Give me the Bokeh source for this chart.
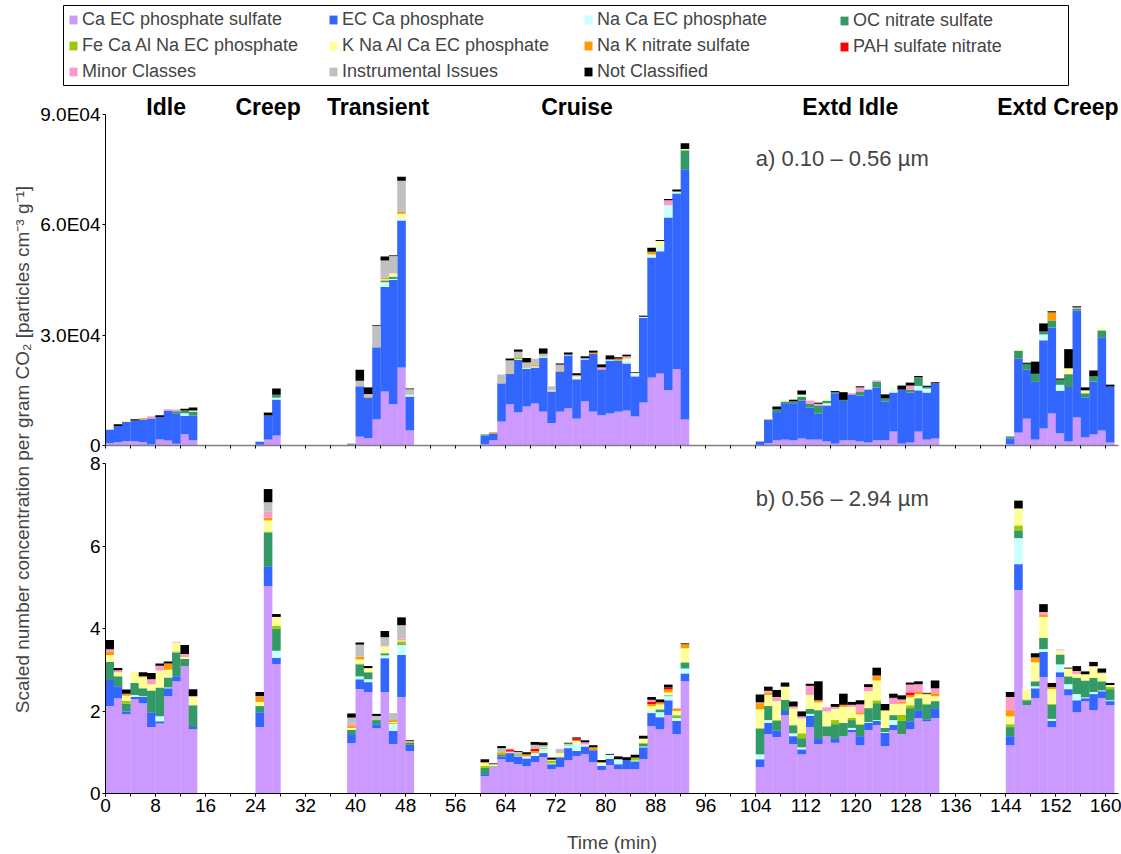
import math

from bokeh.core.properties import value
from bokeh.embed import file_html
from bokeh.models import (BoxAnnotation, ColumnDataSource, FixedTicker, Label,
                          Legend, LegendItem, LinearAxis, Range1d)
from bokeh.plotting import figure
from bokeh.resources import INLINE

FONT = "Liberation Sans"

# ---------------------------------------------------------------- data ----
# Operating modes: each is sampled in consecutive 80 s bins.
BIN_MIN = 4 / 3
MODES = ["Idle", "Creep", "Transient", "Cruise", "Extd Idle", "Extd Creep"]
MODE_START = [0, 24, 38.67, 60, 104, 144]          # min
MODE_BINS = [11, 3, 8, 25, 22, 13]
MODE_LABEL_X = [9.7, 26, 43.6, 75.4, 119.1, 152.3]  # min

CLASS_NAMES = [
    "Ca EC phosphate sulfate", "EC Ca phosphate", "Na Ca EC phosphate",
    "OC nitrate sulfate", "Fe Ca Al Na EC phosphate", "K Na Al Ca EC phosphate",
    "Na K nitrate sulfate", "PAH sulfate nitrate", "Minor Classes",
    "Instrumental Issues", "Not Classified",
]
CLASS_COLORS = [
    "#CC99FF", "#3366FF", "#CCFFFF", "#339966", "#99CC00", "#FFFF99",
    "#FF9900", "#FF0000", "#FF99CC", "#C0C0C0", "#000000",
]

# a) 0.10 - 0.56 um, particles cm-3 g-1 in thousands
#    rows: Idle | Creep | Transient | Cruise | Extd Idle | Extd Creep
A_CA_EC = [
    0.63, 0.91, 1.18, 1.18, 0.91, 0.27, 1.63, 1.36, 0.45, 3.08, 1.45,
    0.2, 1.6, 2.7,
    0.1, 2.4, 2.0, 7.1, 14.7, 11.2, 21.2, 4.1,
    0.3, 1.4, 6.5, 11.2, 9.0, 10.6, 11.4, 9.2, 6.1, 9.2, 10.1, 7.3, 12.0, 9.2, 8.2, 8.7, 9.2, 9.5, 7.9, 11.7, 18.5, 19.6, 15.0, 20.7, 7.1,
    0.1, 0.6, 1.4, 1.6, 1.4, 1.9, 1.6, 1.6, 1.1, 0.5, 1.4, 1.4, 1.1, 0.8, 1.4, 1.4, 3.8, 0.5, 0.8, 3.8, 1.6, 1.9,
    0.3, 3.5, 7.3, 1.6, 4.6, 8.7, 3.3, 1.1, 7.6, 2.2, 3.0, 4.1, 0.8,
]
A_EC_CA = [
    3.63, 4.35, 5.26, 5.62, 6.16, 6.98, 6.08, 8.16, 8.16, 4.99, 6.71,
    0.9, 6.56, 9.8,
    0.2, 13.7, 11.0, 19.6, 28.4, 33.9, 40.0, 9.2,
    2.4, 1.9, 10.4, 8.4, 14.3, 10.2, 9.8, 14.7, 8.6, 10.9, 14.4, 10.7, 11.4, 15.7, 12.5, 14.4, 13.9, 12.8, 10.9, 23.0, 32.6, 33.2, 47.0, 47.8, 68.0,
    1.0, 6.5, 7.7, 9.9, 10.1, 10.3, 8.7, 7.1, 9.8, 13.7, 10.7, 12.5, 12.5, 14.4, 14.4, 10.6, 10.6, 14.7, 13.6, 11.2, 12.8, 15.0,
    1.6, 20.1, 13.3, 15.7, 24.0, 23.4, 11.6, 14.8, 29.1, 10.9, 14.4, 25.3, 15.2,
]
A_NA_CA = [
    0, 0, 0, 0, 0, 0, 0, 0, 0, 0.73, 0,
    0, 0, 0.5,
    0, 0, 0, 0, 1.3, 0.2, 0.5, 0.5,
    0, 0, 0, 0.2, 0.2, 0.3, 0.35, 0.3, 0.3, 0, 0.2, 0.45, 0.3, 0, 0, 0.3, 0, 0.8, 0.6, 0.3, 0.8, 1.4, 3.3, 0.55, 0,
    0, 0, 0, 0, 0, 0, 0, 0, 0.6, 0, 0, 0, 0, 0, 0, 0, 0.8, 0, 0, 1.2, 1.1, 0,
    0, 0, 0, 0, 1.6, 0, 1.6, 0, 0, 0, 0, 0, 0,
]
A_OC = [
    0, 0, 0, 0, 0, 0.18, 0, 0, 0.73, 0.73, 1.09,
    0, 0, 0.8,
    0.2, 0, 0, 0, 0.5, 0.6, 0, 0,
    0.3, 0, 0, 0, 0, 0, 0, 0, 0, 0, 0, 0, 0, 0, 0, 0, 0, 0, 0, 0, 0, 0, 0, 0, 5.2,
    0, 0, 0.7, 0.45, 0.5, 1.1, 1.0, 2.2, 0.7, 0.3, 0.3, 0, 1.1, 0, 1.6, 0.8, 0, 0, 0.8, 2.4, 0.45, 0,
    0.55, 2.2, 1.6, 2.2, 0.8, 1.9, 1.4, 3.5, 0.55, 1.1, 1.4, 1.9, 0,
]
A_FE = [
    0, 0, 0, 0, 0, 0, 0, 0, 0, 0, 0,
    0, 0, 0,
    0, 0, 0, 0, 0, 0, 0, 0,
    0, 0, 0, 0, 0.5, 0, 0, 0.3, 0, 0, 0, 0, 0, 0, 0, 0, 0.3, 0, 0, 0, 0, 0, 0, 0, 0,
    0, 0, 0, 0, 0, 0, 0, 0, 0, 0, 0, 0, 0, 0, 0, 0, 0, 0, 0, 0, 0, 0,
    0, 0, 0, 0, 0, 0, 0, 0, 0, 0, 0, 0, 0,
]
A_K = [
    0, 0, 0.27, 0, 0, 0, 0, 0, 0, 0, 0.27,
    0.15, 0, 0,
    0, 0, 0, 0, 0.3, 0.9, 1.3, 0,
    0, 0, 0, 0, 0, 0, 0, 0, 0, 0, 0, 0.35, 0, 0, 0, 0, 0, 0.55, 0.3, 0, 0, 1.4, 0, 0, 0.3,
    0, 0.35, 0, 0.35, 0, 0.55, 0, 0, 0.45, 0, 0, 0, 0, 0, 0, 0, 0.3, 0, 0, 0, 0, 0,
    0, 0.3, 0, 0, 0, 0, 0, 1.6, 0, 0.8, 0, 0.55, 0,
]
A_NAK = [
    0, 0, 0, 0, 0.36, 0, 0, 0, 0, 0, 0,
    0, 0, 0,
    0, 0, 0.2, 0, 0.4, 0, 0.5, 0,
    0, 0.3, 0, 0.35, 0, 0, 0.45, 0, 0, 0.3, 0, 0, 0, 0.35, 0, 0, 0, 0, 0, 0, 0.8, 0, 0, 0, 0,
    0, 0, 0, 0, 0, 0, 0, 0, 0, 0, 0, 0, 0, 0, 0, 0, 0, 0, 0, 0, 0, 0,
    0, 0, 0, 0, 0, 2.2, 0, 0, 0, 0, 0, 0, 0,
]
A_PAH = [
    0, 0, 0, 0, 0, 0, 0, 0, 0, 0, 0,
    0, 0, 0,
    0, 0, 0, 0, 0, 0, 0, 0,
    0, 0, 0, 0, 0, 0, 0, 0, 0, 0, 0, 0, 0, 0, 0, 0, 0.3, 0, 0, 0, 0, 0, 0, 0, 0,
    0, 0, 0, 0, 0, 0, 0, 0, 0, 0, 0, 0, 0, 0, 0, 0, 0, 0, 0, 0, 0, 0,
    0, 0, 0, 0, 0, 0, 0, 0, 0, 0, 0, 0, 0,
]
A_MINOR = [
    0, 0, 0, 0, 0, 0.54, 0, 0.36, 0.45, 0, 0,
    0, 0, 0,
    0, 0, 0, 0, 0, 0, 0, 0,
    0, 0, 0, 0, 0, 0, 0, 0, 0, 0, 0, 0.3, 0, 0, 0.55, 0, 0, 0.6, 0, 0, 0, 0, 1.4, 0, 0,
    0, 0, 0, 0, 0, 0, 0.9, 0.45, 0, 0, 0, 0.3, 1.1, 0, 0.3, 0, 0, 0, 1.1, 0, 0, 0,
    0, 0, 0, 0, 0, 0, 0, 0, 0.3, 0, 0, 0, 0,
]
A_INSTR = [
    0, 0, 0, 0, 0, 0, 0, 0, 0, 0, 0,
    0, 0, 0,
    0, 1.5, 0.8, 5.8, 4.7, 4.7, 8.5, 1.5,
    0, 0, 2.4, 3.0, 1.5, 1.5, 1.6, 0.45, 1.1, 1.6, 0, 0, 0, 0, 0, 0, 0, 0, 0, 0, 0, 0, 0, 0, 0,
    0, 0, 0, 0, 0, 0, 0, 0, 0, 0, 0, 0, 0, 0, 0, 0, 0, 0, 0, 0, 0, 0,
    0, 0, 0, 0, 0, 0, 0, 0, 0, 0, 0, 0, 0,
]
A_UNCL = [
    0, 0.54, 0, 0.36, 0, 0, 0.54, 0, 0, 0.45, 0.82,
    0, 0.8, 1.7,
    0, 3.0, 1.8, 0.2, 1.1, 0.2, 1.1, 0.2,
    0, 0, 0, 0.5, 0.6, 1.2, 0, 1.45, 0, 0.3, 0.6, 0.55, 0.55, 0.55, 0.8, 1.1, 0.3, 0.45, 0.2, 0.3, 1.1, 0.3, 0.3, 0.55, 1.6,
    0, 0, 0.8, 0, 0.45, 1.1, 0, 0.3, 0, 0.3, 2.1, 0, 0.3, 0, 0, 1.1, 0, 1.1, 0.8, 0.3, 0.3, 0.3,
    0, 0, 0.3, 3.3, 2.2, 0.3, 0.3, 5.2, 0.3, 0.8, 1.6, 0, 0.55,
]
A_UNIT = 1e3

# b) 0.56 - 2.94 um, particles cm-3 g-1
B_CA_EC = [
    2.12, 2.31, 1.92, 2.29, 2.19, 1.61, 1.70, 2.36, 2.72, 3.09, 1.56,
    1.61, 5.03, 3.14,
    1.22, 2.53, 2.46, 1.58, 2.46, 1.20, 2.34, 1.03,
    .42, .64, .83, .76, .71, .66, .76, .88, .59, .64, .81, .91, .95, .76, .57, .69, .59, .59, .59, .83, 1.63, 1.56, 1.90, 1.44, 2.72,
    .64, 1.44, 1.37, 1.90, 1.20, .95, 1.61, 1.20, 1.39, 1.23, 1.39, 1.49, 1.17, 1.54, 1.66, 1.15, 1.54, 1.44, 1.56, 1.83, 1.75, 1.83,
    1.17, 4.93, 2.14, 2.31, 2.82, 1.61, 2.82, 2.38, 1.97, 2.24, 2.02, 2.31, 2.14,
]
B_EC_CA = [
    .63, .29, .07, .05, .15, .36, .05, .19, .12, 0, .05,
    .36, .48, .15,
    .22, .24, .24, .10, .82, .32, 1.02, .15,
    .05, 0, .07, .22, .19, .19, .15, .10, .12, .24, .29, .12, .19, .29, .10, .15, .12, .22, .19, .29, .32, .29, .36, .32, .19,
    .19, .27, .15, .10, .19, .12, .27, .12, 0, .09, 0, .05, .22, .17, .10, .32, .12, 0, .19, .19, .05, .24,
    .22, .63, 0, .24, .61, .15, .12, .15, .29, .07, .39, .17, .10,
]
B_NA_CA = [
    0, 0, 0, .05, .02, 0, .12, .02, 0, 0, 0,
    0, 0, .17,
    0, .07, .07, 0, .07, .17, .24, 0,
    0, 0, 0, .02, .02, .05, .07, .10, .02, 0, .07, .19, .05, 0, .05, .10, .12, 0, .02, .02, .07, .12, .10, .07, .12,
    .12, .07, 0, 0, .07, .05, .05, 0, 0, 0, 0, .05, 0, .02, .02, .02, .12, 0, 0, 0, 0, 0,
    0, .63, 0, .05, .07, .05, .19, .12, .15, .02, .05, .02, .02,
]
B_OC = [
    .44, .24, .19, .29, .19, .53, .70, .24, .58, .17, .53,
    .15, .82, .53,
    .10, .29, .17, .10, .05, 0, .02, .05,
    .15, .02, .05, 0, .02, 0, 0, 0, 0, 0, .02, 0, 0, 0, 0, 0, 0, 0, 0, .07, 0, .07, .02, .02, .15,
    .63, .34, .24, .27, .19, .22, .12, .70, .24, .36, .32, .19, .27, .34, .41, .10, .12, .32, .32, .29, .36, .17,
    .22, .19, .12, .12, .27, .34, .24, .19, .39, .41, .34, .22, .27,
]
B_FE = [
    0, 0, .07, 0, 0, 0, 0, 0, .02, 0, 0,
    0, .02, .07,
    0, .02, 0, 0, 0, .02, .07, 0,
    .05, 0, 0, 0, 0, 0, 0, .02, .07, 0, 0, 0, 0, 0, 0, 0, 0, 0, .07, .02, 0, 0, 0, .05, 0,
    0, 0, .02, 0, .02, .12, 0, 0, 0, .10, 0, .05, .02, 0, .07, 0, 0, .15, .07, 0, .02, 0,
    .07, .12, .02, 0, 0, .02, 0, 0, 0, 0, 0, 0, .05,
]
B_K = [
    .17, .10, .12, .27, .27, .15, .41, .19, .22, .05, .22,
    .10, .27, .22,
    .05, .10, .10, 0, .17, .02, .02, 0,
    .07, .05, 0, 0, 0, 0, 0, .02, .02, .10, .02, .05, 0, 0, .02, 0, 0, 0, 0, .10, .10, .12, .07, .10, .34,
    .46, .27, .46, .32, .39, .36, .34, .19, .36, .27, .39, .27, .24, .41, .48, .41, .27, .27, .19, .10, .22, .12,
    .19, .41, .24, .46, .51, .36, .10, .19, .10, .15, .27, .19, .05,
]
B_NAK = [
    .07, 0, .05, 0, .02, 0, 0, .15, 0, 0, 0,
    .12, .07, 0,
    .05, .07, 0, 0, 0, .05, 0, .02,
    .02, 0, .05, .02, .02, .05, .05, 0, 0, 0, 0, .02, 0, .07, .02, 0, 0, 0, 0, 0, .05, .05, .07, .05, .10,
    .15, .05, 0, 0, 0, 0, 0, .05, 0, 0, .05, 0, .05, 0, .12, .02, 0, .05, .05, .05, .02, .07,
    .15, 0, 0, .12, .05, .05, 0, 0, 0, 0, 0, 0, 0,
]
B_PAH = [
    0, 0, 0, 0, 0, 0, 0, 0, 0, 0, 0,
    0, 0, 0,
    0, 0, 0, 0, 0, 0, 0, 0,
    0, 0, 0, .05, 0, 0, .05, 0, 0, 0, 0, .05, 0, 0, 0, 0, 0, 0, 0, 0, .05, 0, .05, 0, 0,
    0, 0, 0, 0, 0, 0, 0, 0, 0, 0, 0, 0, 0, 0, 0, 0, 0, 0, .07, 0, 0, 0,
    0, 0, 0, 0, 0, 0, 0, 0, 0, 0, 0, 0, 0,
]
B_MINOR = [
    .07, .05, 0, 0, 0, .12, .12, 0, .02, .07, 0,
    .02, .15, 0,
    .05, 0, 0, 0, 0, 0, .05, .02,
    0, 0, 0, .02, 0, 0, 0, 0, 0, 0, 0, 0, .05, 0, 0, 0, 0, 0, 0, 0, .05, 0, 0, .02, 0,
    .02, .05, .10, 0, .05, .05, .22, 0, .10, .05, 0, .05, .19, .10, 0, 0, .15, .05, .19, .19, 0, .12,
    .32, 0, 0, 0, .07, 0, .02, 0, .07, 0, .02, .02, 0,
]
B_INSTR = [
    0, 0, 0, 0, 0, 0, 0, 0, 0, 0, 0,
    0, .22, 0,
    .15, .29, 0, .10, .22, .17, .32, 0,
    0, 0, .10, 0, .05, 0, .10, .05, 0, .10, 0, 0, 0, 0, 0, 0, 0, 0, 0, 0, 0, 0, 0, 0, 0,
    0, 0, 0, 0, 0, 0, 0, 0, 0, 0, 0, 0, 0, 0, 0, 0, 0, 0, 0, 0, 0, 0,
    0, 0, 0, 0, 0, 0, 0, 0, 0, 0, 0, 0, 0,
]
B_UNCL = [
    .22, .05, .10, 0, .10, .15, .05, .05, 0, .22, .17,
    .10, .32, .07,
    .10, .05, .05, .05, .15, 0, .19, .02,
    .07, .02, .05, 0, .02, .05, .07, .07, .05, 0, .02, .02, .05, .05, .05, .02, .07, .07, .07, .07, .07, .07, .07, 0, .02,
    .19, .10, .17, .10, .12, .12, .05, .46, 0, .07, .27, .07, .10, .07, .19, .15, .10, .10, .05, .07, .02, .19,
    .12, .19, 0, .10, .19, .10, 0, .02, .12, .07, .10, .10, .05,
]

A_SERIES = [A_CA_EC, A_EC_CA, A_NA_CA, A_OC, A_FE, A_K, A_NAK, A_PAH, A_MINOR, A_INSTR, A_UNCL]
B_SERIES = [B_CA_EC, B_EC_CA, B_NA_CA, B_OC, B_FE, B_K, B_NAK, B_PAH, B_MINOR, B_INSTR, B_UNCL]

A_TICKS = [0, 30000, 60000, 90000]
A_TICK_LABELS = ["0", "3.0E04", "6.0E04", "9.0E04"]
B_TICKS = [0, 2, 4, 6, 8]
X_LABEL_TICKS = list(range(0, 161, 8))
X_MINOR_TICKS = list(range(0, 163, 4))
X_MAX = 162

# -------------------------------------------------------------- layout ----
# The plot frame covers the whole canvas; axes sit at fixed data locations.
W, H = 1121, 854
AXIS_LEFT, AXIS_RIGHT = 105, 1118   # canvas x of t = 0 and t = X_MAX
B_BASE, B_TOP = 793, 463            # canvas y of 0 and 8 in panel b
A_BASE, A_TOP = 445, 114            # canvas y of 0 and 9.0E04 in panel a

x_per_px = X_MAX / (AXIS_RIGHT - AXIS_LEFT)
b_per_px = 8 / (B_BASE - B_TOP)
a_per_px = 90000 / (A_BASE - A_TOP)
X_RANGE = (-AXIS_LEFT * x_per_px, X_MAX + (W - AXIS_RIGHT) * x_per_px)
B_RANGE = (-(H - B_BASE) * b_per_px, B_BASE * b_per_px)
A_RANGE = (-(H - A_BASE) * a_per_px, A_BASE * a_per_px)

# bin centres
times = []
for start, n in zip(MODE_START, MODE_BINS):
    times += [start + (i + 0.5) * BIN_MIN for i in range(n)]

keys = [f"c{i}" for i in range(len(CLASS_NAMES))]
src_a = ColumnDataSource(dict(t=times, **{k: [v * A_UNIT for v in s] for k, s in zip(keys, A_SERIES)}))
src_b = ColumnDataSource(dict(t=times, **{k: list(s) for k, s in zip(keys, B_SERIES)}))

p = figure(width=W, height=H, output_backend="svg", toolbar_location=None,
           x_range=Range1d(*X_RANGE), y_range=Range1d(*B_RANGE),
           x_axis_type=None, y_axis_type=None, min_border=0)
p.extra_y_ranges = {"a": Range1d(*A_RANGE)}
p.outline_line_color = None
p.background_fill_color = "white"

bar_w = BIN_MIN * 1.03
p.vbar_stack(keys, x="t", width=bar_w, source=src_a, y_range_name="a",
             fill_color=CLASS_COLORS, line_color=None)
rb = p.vbar_stack(keys, x="t", width=bar_w, source=src_b,
                  fill_color=CLASS_COLORS, line_color=None)

# ---- axes
TICK_FONT = "19px"


def style_axis(ax):
    ax.major_label_text_font = FONT
    ax.major_label_text_font_size = TICK_FONT
    ax.major_label_text_color = "black"
    ax.axis_line_color = "black"
    ax.major_tick_line_color = "black"
    ax.minor_tick_line_color = "black"
    ax.major_tick_in = 0
    ax.major_tick_out = 3
    ax.minor_tick_in = 0
    ax.minor_tick_out = 3
    ax.major_label_standoff = 2


yb = LinearAxis(fixed_location=0, bounds=(0, 8),
                ticker=FixedTicker(ticks=B_TICKS, minor_ticks=[]))
style_axis(yb)
p.add_layout(yb, "left")

ya = LinearAxis(y_range_name="a", fixed_location=0, bounds=(0, 90000),
                ticker=FixedTicker(ticks=A_TICKS, minor_ticks=[]),
                major_label_overrides=dict(zip(A_TICKS, A_TICK_LABELS)))
style_axis(ya)
p.add_layout(ya, "left")

xb = LinearAxis(fixed_location=0, bounds=(0, X_MAX),
                ticker=FixedTicker(ticks=X_LABEL_TICKS, minor_ticks=X_MINOR_TICKS))
style_axis(xb)
xb.axis_label = "Time (min)"
xb.axis_label_text_font = FONT
xb.axis_label_text_font_size = "19px"
xb.axis_label_text_font_style = "normal"
xb.axis_label_standoff = 17
p.add_layout(xb, "below")

# upper panel baseline: tick marks only
xa = LinearAxis(y_range_name="a", fixed_location=0, bounds=(0, X_MAX),
                ticker=FixedTicker(ticks=[], minor_ticks=X_MINOR_TICKS))
style_axis(xa)
xa.axis_line_color = "#7f7f7f"
xa.axis_line_width = 1.5
p.add_layout(xa, "below")

# ---- mode names and panel titles
p.text(x=MODE_LABEL_X, y=[92000] * len(MODES), text=MODES, y_range_name="a",
       text_font=value(FONT), text_font_style="bold", text_font_size="23px",
       text_align="center", text_baseline="middle", text_color="black")

p.add_layout(Label(x=104, y=78000, y_range_name="a", text="a) 0.10 \u2013 0.56 \u00b5m",
                   text_font=FONT, text_font_size="22px", text_baseline="middle"))
p.add_layout(Label(x=104, y=7.15, text="b) 0.56 \u2013 2.94 \u00b5m",
                   text_font=FONT, text_font_size="22px", text_baseline="middle"))

# shared y-axis title
p.add_layout(Label(x=22, y=H - 449, x_units="screen", y_units="screen",
                   angle=math.pi / 2, text_align="center", text_baseline="middle",
                   text="Scaled number concentration per gram CO\u2082 [particles cm\u207b\u00b3 g\u207b\u00b9]",
                   text_font=FONT, text_font_size="19px"))

# ---- legend: framed box holding four columns of entries (row-major order)
LEG_BOX = dict(left=63, right=1068, top=5, bottom=85)   # canvas px
LEG_COL_X = [68, 328, 583, 839]
LEG_TOP = 12
ROW_H, ROW_GAP = 20, 5

p.add_layout(BoxAnnotation(
    left=LEG_BOX["left"], right=LEG_BOX["right"],
    top=H - LEG_BOX["top"], bottom=H - LEG_BOX["bottom"],
    left_units="screen", right_units="screen", top_units="screen", bottom_units="screen",
    fill_color="white", fill_alpha=1, line_color="black", line_width=1, line_alpha=1,
))

for col, x0 in enumerate(LEG_COL_X):
    idx = list(range(col, len(CLASS_NAMES), len(LEG_COL_X)))
    n = len(idx)
    leg_h = n * ROW_H + (n - 1) * ROW_GAP
    p.add_layout(Legend(
        items=[LegendItem(label=CLASS_NAMES[i], renderers=[rb[i]]) for i in idx],
        orientation="vertical", location=(x0, H - LEG_TOP - leg_h),
        label_text_font=FONT, label_text_font_size="18px",
        glyph_width=10, glyph_height=11, label_standoff=4,
        label_height=ROW_H, spacing=ROW_GAP, padding=0, margin=0,
        border_line_color=None, background_fill_alpha=0,
    ), "center")

open("out.html", "w").write(file_html(p, INLINE))
